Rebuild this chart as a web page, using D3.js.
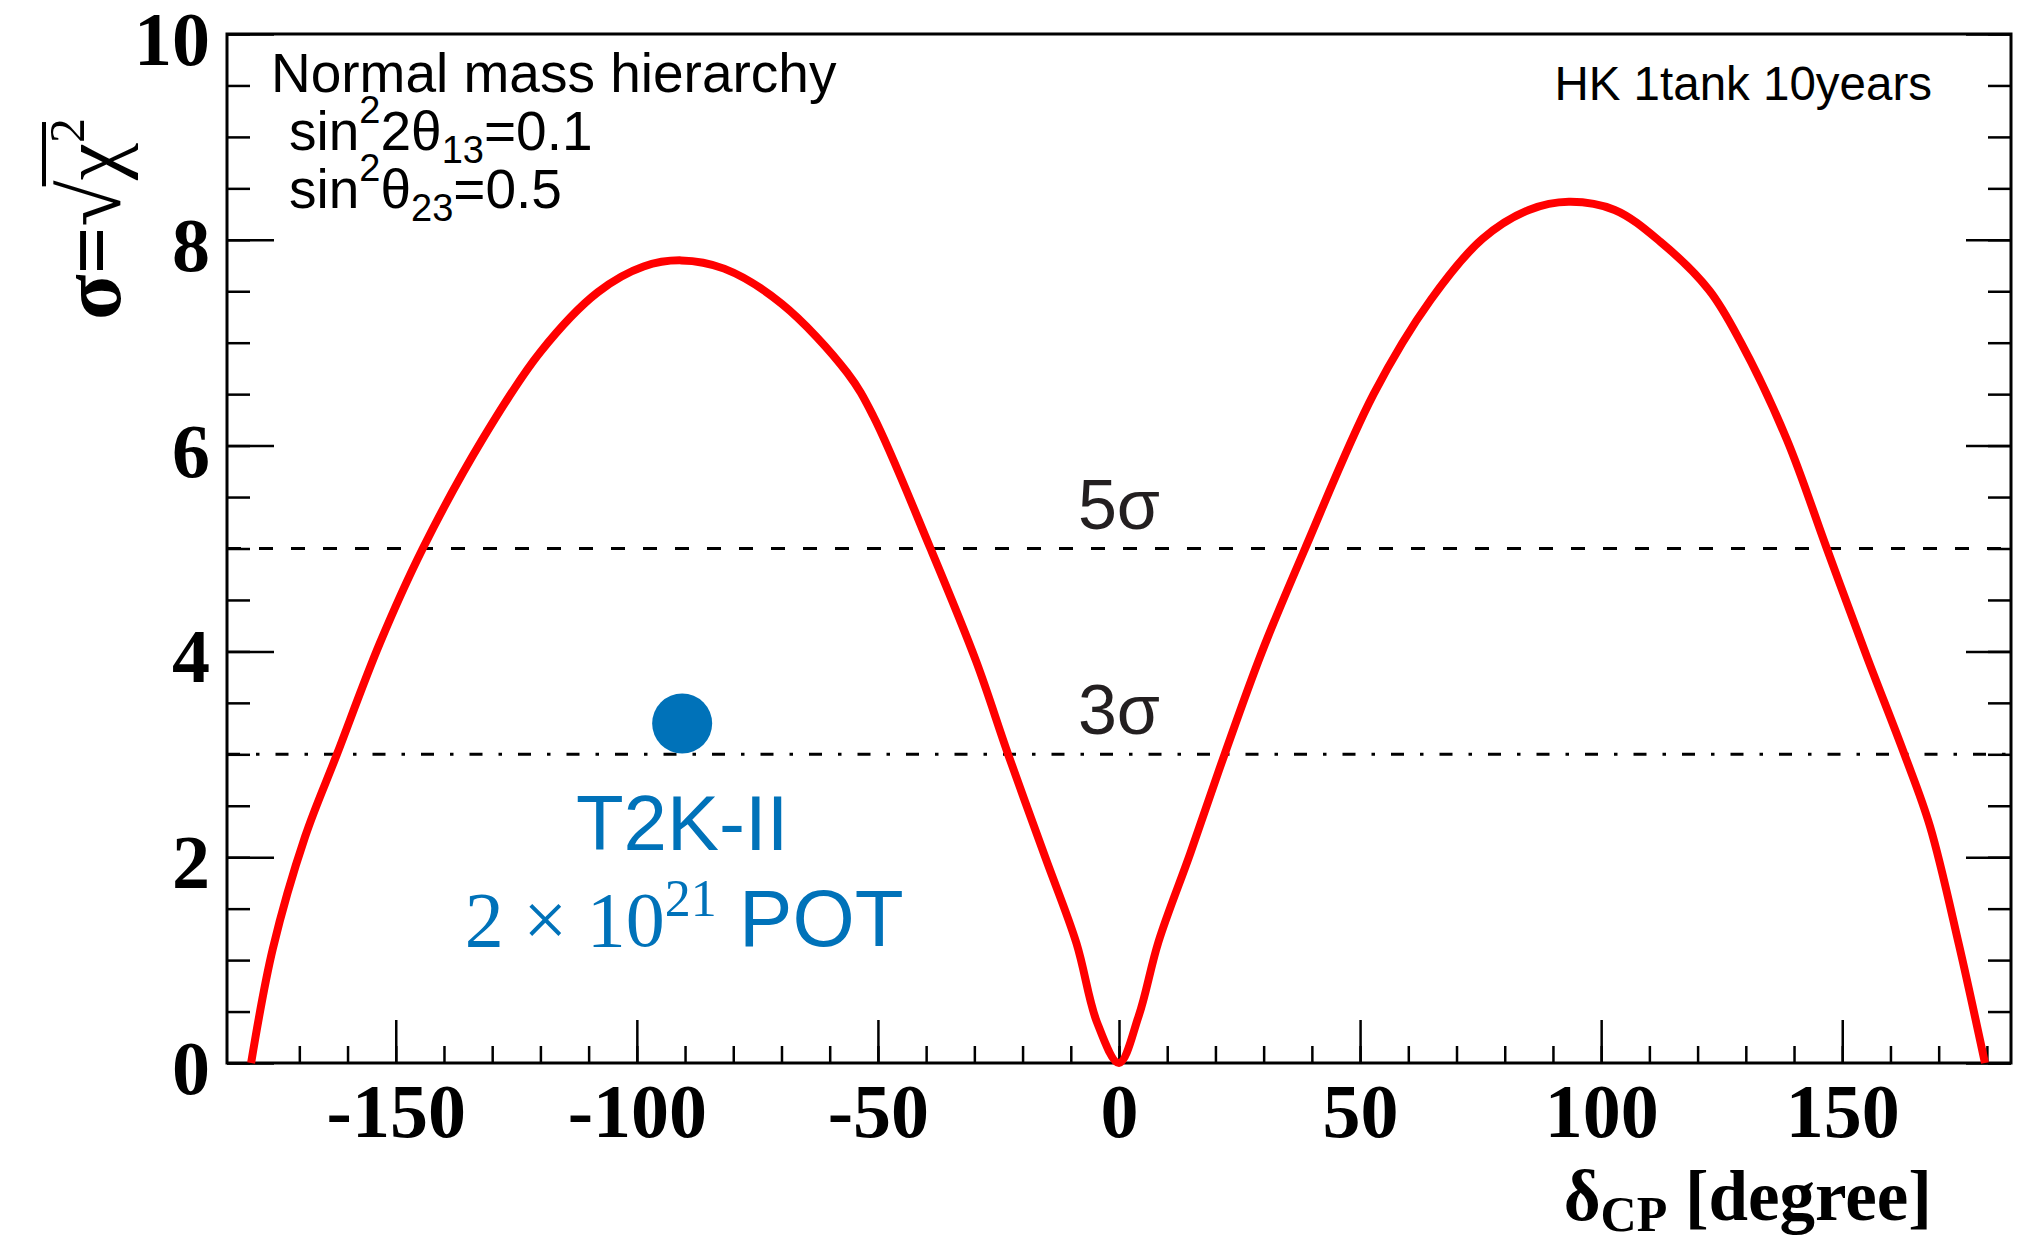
<!DOCTYPE html>
<html>
<head>
<meta charset="utf-8">
<script src="https://cdn.jsdelivr.net/npm/d3@7"></script>
<style>
  body { margin: 0; background: #fff; }
</style>
</head>
<body>
<div id="chart"></div>
<script>

// values
var deltaCP = [-180, -175.5, -168.8, -162.2, -153.3, -144.4, -131.9, -120, -108.1, -98.6, -90.8, -81.9, -70, -56.4, -51, -39.1, -29.6, -23, -15.3, -8.8, -4.6, 0,
               4.1, 8.2, 14.8, 21.9, 29.6, 38.6, 52.8, 64.7, 75.4, 85, 93.3, 102.8, 112.3, 122.4, 129, 138.5, 146.8, 155.1, 162.9, 168.2, 174.2, 179.6];
var sigma = [0, 1.11, 2.2, 3.0, 4.08, 5.0, 6.07, 6.91, 7.49, 7.74, 7.8, 7.72, 7.38, 6.71, 6.29, 5.0, 3.9, 3.0, 2.0, 1.16, 0.4, 0,
             0.46, 1.18, 2.04, 3.0, 3.99, 5.0, 6.5, 7.42, 8.01, 8.29, 8.37, 8.29, 7.98, 7.51, 7.0, 6.06, 5.0, 3.95, 3.0, 2.3, 1.15, 0];

var xTicks = [-150, -100, -50, 0, 50, 100, 150];
var yTicks = [0, 2, 4, 6, 8, 10];
var clLevels = [5, 3];
var clLabels = ["5σ", "3σ"];
var t2kDelta = -90.6, t2kSigma = 3.3;

var width = 2034, height = 1238;
var frame = { left: 227, right: 2011, top: 34, bottom: 1063 };
var serif = "'Liberation Serif', 'Times New Roman', serif";
var sans = "'Liberation Sans', Arial, Helvetica, sans-serif";

var svg = d3.select("#chart").append("svg")
    .attr("width", width)
    .attr("height", height)
    .style("background", "#fff");

var x = d3.scaleLinear().domain([-185, 185]).range([frame.left, frame.right]);
var y = d3.scaleLinear().domain([0, 10]).range([frame.bottom, frame.top]);

function styleAxis(g) {
    g.select(".domain").remove();
    g.selectAll(".tick line").attr("stroke", "#000").attr("stroke-width", 2.5);
    g.selectAll(".tick text")
        .attr("font-family", serif)
        .attr("font-weight", "bold")
        .attr("font-size", 76)
        .attr("fill", "#000");
}

// minor ticks
svg.append("g").attr("transform", "translate(0," + frame.bottom + ")")
    .call(d3.axisBottom(x).tickValues(d3.range(-180, 181, 10)).tickSize(-17).tickFormat(""))
    .call(styleAxis);
svg.append("g").attr("transform", "translate(" + frame.left + ",0)")
    .call(d3.axisLeft(y).tickValues(d3.range(0, 10.01, 0.5)).tickSize(-23).tickFormat(""))
    .call(styleAxis);
svg.append("g").attr("transform", "translate(" + frame.right + ",0)")
    .call(d3.axisRight(y).tickValues(d3.range(0, 10.01, 0.5)).tickSize(-23).tickFormat(""))
    .call(styleAxis);

// major ticks + labels
svg.append("g").attr("transform", "translate(0," + frame.bottom + ")")
    .call(d3.axisBottom(x).tickValues(xTicks).tickSize(-43).tickPadding(20))
    .call(styleAxis)
    .selectAll(".tick text").text(function (d) { return String(d); });
svg.append("g").attr("transform", "translate(" + frame.left + ",0)")
    .call(d3.axisLeft(y).tickValues(yTicks).tickSize(-47).tickPadding(17))
    .call(styleAxis)
    .selectAll(".tick text").attr("dy", "0.4em");
svg.append("g").attr("transform", "translate(" + frame.right + ",0)")
    .call(d3.axisRight(y).tickValues(yTicks).tickSize(-45).tickFormat(""))
    .call(styleAxis);

// frame
svg.append("rect")
    .attr("x", frame.left)
    .attr("y", frame.top)
    .attr("width", frame.right - frame.left)
    .attr("height", frame.bottom - frame.top)
    .attr("fill", "none")
    .attr("stroke", "#000")
    .attr("stroke-width", 3);

// 5 sigma / 3 sigma lines
svg.selectAll(".cl")
    .data(clLevels)
    .enter().append("line")
    .attr("class", "cl")
    .attr("x1", frame.left)
    .attr("x2", frame.right)
    .attr("y1", function (d) { return y(d); })
    .attr("y2", function (d) { return y(d); })
    .attr("stroke", "#000")
    .attr("stroke-width", 3)
    .attr("stroke-dasharray", function (d, i) { return i === 0 ? "14,18" : "13,16,3.5,16"; });

svg.selectAll(".cl-label")
    .data(clLevels)
    .enter().append("text")
    .attr("class", "cl-label")
    .attr("x", x(0))
    .attr("y", function (d) { return y(d) - 20; })
    .attr("text-anchor", "middle")
    .attr("font-family", sans)
    .attr("font-size", 70)
    .attr("fill", "#231f20")
    .text(function (d, i) { return clLabels[i]; });

// sensitivity curve
var points = deltaCP.map(function (d, i) { return [d, sigma[i]]; });
var line = d3.line()
    .x(function (d) { return x(d[0]); })
    .y(function (d) { return y(d[1]); })
    .curve(d3.curveCatmullRom.alpha(0.5));

svg.append("path")
    .datum(points)
    .attr("d", line)
    .attr("fill", "none")
    .attr("stroke", "#ff0000")
    .attr("stroke-width", 8)
    .attr("stroke-linejoin", "round");

// T2K-II point
svg.append("circle")
    .attr("cx", x(t2kDelta))
    .attr("cy", y(t2kSigma))
    .attr("r", 30)
    .attr("fill", "#0072b9");

svg.append("text")
    .attr("x", x(t2kDelta))
    .attr("y", 850)
    .attr("text-anchor", "middle")
    .attr("font-family", sans)
    .attr("font-size", 78)
    .attr("fill", "#0072b9")
    .text("T2K-II");

var pot = svg.append("text")
    .attr("x", x(t2kDelta) + 2)
    .attr("y", 946)
    .attr("text-anchor", "middle")
    .attr("fill", "#0072b9");
pot.append("tspan").attr("font-family", serif).attr("font-size", 78).text("2 × 10");
pot.append("tspan").attr("font-family", serif).attr("font-size", 52).attr("dy", -30).text("21");
pot.append("tspan").attr("font-family", sans).attr("font-size", 80).attr("dy", 30).text(" POT");

// info text
svg.append("text")
    .attr("x", 271).attr("y", 92)
    .attr("font-family", sans).attr("font-size", 55)
    .text("Normal mass hierarchy");

var l2 = svg.append("text").attr("x", 289).attr("y", 150)
    .attr("font-family", sans).attr("font-size", 55);
l2.append("tspan").text("sin");
l2.append("tspan").attr("font-size", 38).attr("dy", -27).text("2");
l2.append("tspan").attr("dy", 27).text("2θ");
l2.append("tspan").attr("font-size", 38).attr("dy", 13).text("13");
l2.append("tspan").attr("dy", -13).text("=0.1");

var l3 = svg.append("text").attr("x", 289).attr("y", 208)
    .attr("font-family", sans).attr("font-size", 55);
l3.append("tspan").text("sin");
l3.append("tspan").attr("font-size", 38).attr("dy", -27).text("2");
l3.append("tspan").attr("dy", 27).text("θ");
l3.append("tspan").attr("font-size", 38).attr("dy", 13).text("23");
l3.append("tspan").attr("dy", -13).text("=0.5");

svg.append("text")
    .attr("x", 1932).attr("y", 100)
    .attr("text-anchor", "end")
    .attr("font-family", sans).attr("font-size", 47.5)
    .text("HK 1tank 10years");

// x title
var xt = svg.append("text")
    .attr("x", 1932).attr("y", 1220)
    .attr("text-anchor", "end")
    .attr("font-family", serif).attr("font-weight", "bold")
    .attr("font-size", 71);
xt.append("tspan").text("δ");
xt.append("tspan").attr("font-size", 50).attr("dy", 11).text("CP");
xt.append("tspan").attr("dy", -11).text(" [degree]");

// y title
var yg = svg.append("g").attr("transform", "translate(120,320) rotate(-90)");
var yt = yg.append("text")
    .attr("x", 0).attr("y", 0)
    .attr("font-family", serif).attr("font-weight", "bold")
    .attr("font-size", 84);
yt.append("tspan").text("σ=");
yt.append("tspan").attr("font-weight", "normal").text("√");
yt.append("tspan").attr("font-weight", "normal").text("χ");
yt.append("tspan").attr("font-size", 50).attr("font-weight", "normal").attr("dy", -36).text("2");

var node = yt.node();
var barStart = node.getSubStringLength(0, 3) - 6;
var barEnd = node.getSubStringLength(0, 5) - 4;
yg.append("line")
    .attr("x1", barStart).attr("x2", barEnd)
    .attr("y1", -76).attr("y2", -76)
    .attr("stroke", "#000")
    .attr("stroke-width", 4);

</script>
</body>
</html>
